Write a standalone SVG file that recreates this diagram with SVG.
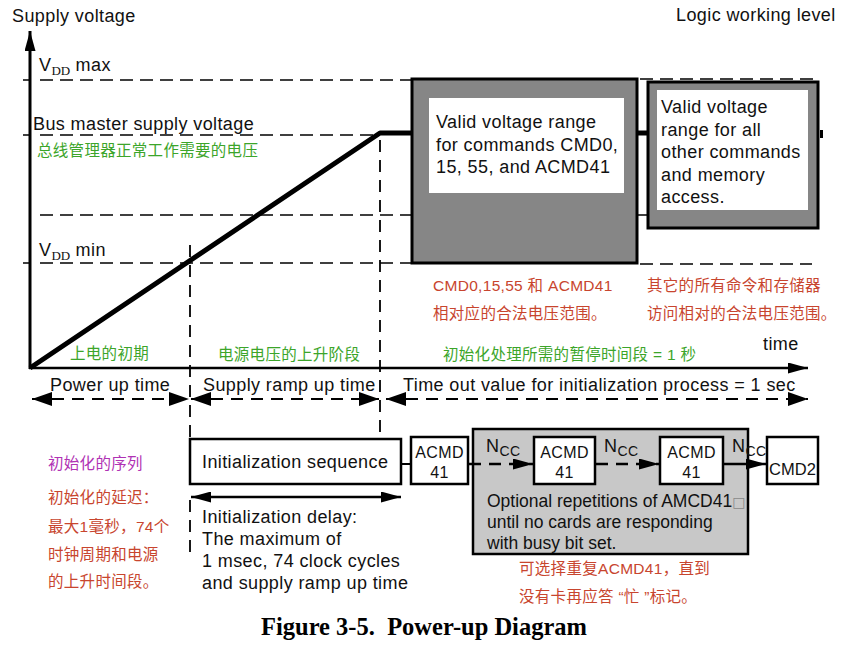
<svg xmlns="http://www.w3.org/2000/svg" width="842" height="646" viewBox="0 0 842 646">
<style>
.t{font-family:"Liberation Sans",Arial,"Noto Sans CJK SC",sans-serif;font-size:18px;letter-spacing:0.4px;fill:#111}
.s{font-family:"Liberation Serif","Times New Roman",serif;font-size:13px;letter-spacing:0}
.zh{font-family:"Liberation Sans","Noto Sans CJK SC",sans-serif;font-size:15.5px;letter-spacing:0.3px}
.g{fill:#3ca52a}
.r{fill:#c8452e}
.p{fill:#b032b4}
.dl{stroke:#000;stroke-width:1.5;stroke-dasharray:13 7;fill:none}
.dv{stroke:#000;stroke-width:1.8;stroke-dasharray:12 8;fill:none}
.da{stroke:#000;stroke-width:2;stroke-dasharray:12 8;fill:none}
.box{fill:#fff;stroke:#000;stroke-width:2.5}
.dark{fill:#868686;stroke:#000;stroke-width:3}
.sm{font-size:16px}
.gt{font-size:17.5px;letter-spacing:0}
</style>
<defs>
<marker id="ah" markerUnits="userSpaceOnUse" markerWidth="20" markerHeight="14" refX="20" refY="7" orient="auto-start-reverse">
<path d="M0,0 L20,7 L0,14 z" fill="#000"/>
</marker>
<marker id="as" markerUnits="userSpaceOnUse" markerWidth="20" markerHeight="11" refX="20" refY="5.5" orient="auto-start-reverse">
<path d="M0,0 L20,5.5 L0,11 z" fill="#000"/>
</marker>
</defs>
<rect width="842" height="646" fill="#fff"/>

<!-- axis and level lines -->
<g id="axes">
<line x1="30" y1="369" x2="30" y2="31" stroke="#000" stroke-width="3" marker-end="url(#as)"/>
<line x1="29" y1="368" x2="808" y2="368" stroke="#000" stroke-width="2.5" marker-end="url(#as)"/>
<line x1="23" y1="80" x2="30" y2="80" stroke="#000" stroke-width="1.5"/>
<line x1="23" y1="135" x2="30" y2="135" stroke="#000" stroke-width="1.5"/>
<line x1="23" y1="263" x2="30" y2="263" stroke="#000" stroke-width="1.5"/>
<line class="dl" x1="40" y1="80" x2="412" y2="80"/>
<line class="dl" x1="640" y1="79" x2="818" y2="79"/>
<line class="dl" x1="40" y1="135" x2="380" y2="135"/>
<line class="dl" x1="40" y1="215" x2="412" y2="215"/>
<line x1="637" y1="215" x2="648" y2="215" stroke="#000" stroke-width="1.5"/>
<line class="dl" x1="40" y1="263" x2="412" y2="263"/>
<line class="dl" x1="640" y1="264" x2="812" y2="264"/>
<line class="dv" x1="190" y1="245" x2="190" y2="439"/>
<line class="dv" x1="190" y1="500" x2="190" y2="552"/>
<line class="dv" x1="380" y1="140" x2="380" y2="439"/>
</g>

<g id="labels">
<text class="t" x="12" y="22">Supply voltage</text>
<text class="t" x="676" y="21">Logic working level</text>
<text class="t" x="39" y="71">V<tspan class="s" dy="4">DD</tspan><tspan dy="-4"> max</tspan></text>
<text class="t" x="33" y="130">Bus master supply voltage</text>
<text class="zh g" x="37" y="156">总线管理器正常工作需要的电压</text>
<text class="t" x="39" y="256">V<tspan class="s" dy="4">DD</tspan><tspan dy="-4"> min</tspan></text>
<text class="t" x="763" y="350">time</text>
<text class="zh g" x="70" y="359">上电的初期</text>
<text class="zh g" x="218" y="360">电源电压的上升阶段</text>
<text class="zh g" x="443" y="360">初始化处理所需的暂停时间段 = 1 秒</text>
<text class="zh r" x="433" y="291">CMD0,15,55 和  ACMD41</text>
<text class="zh r" x="433" y="319">相对应的合法电压范围。</text>
<text class="zh r" x="647" y="291">其它的所有命令和存储器</text>
<text class="zh r" x="647" y="319">访问相对的合法电压范围。</text>
<text class="t" x="50" y="391">Power up time</text>
<text class="t" x="203" y="391">Supply ramp up time</text>
<text class="t" x="403" y="391">Time out value for initialization process = 1 sec</text>
<text class="zh p" x="48" y="469">初始化的序列</text>
<text class="zh r" x="48" y="503">初始化的延迟：</text>
<text class="zh r" x="48" y="532">最大1毫秒，74个</text>
<text class="zh r" x="48" y="560">时钟周期和电源</text>
<text class="zh r" x="48" y="587">的上升时间段。</text>
<text class="t" x="202" y="523">Initialization delay:</text>
<text class="t" x="202" y="545">The maximum of</text>
<text class="t" x="202" y="567">1 msec, 74 clock cycles</text>
<text class="t" x="202" y="589">and supply ramp up time</text>
<text class="zh r" x="519" y="574">可选择重复ACMD41，直到</text>
<text class="zh r" x="519" y="602">没有卡再应答 “忙 ”标记。</text>
<text x="424" y="635" text-anchor="middle" style="font-family:'Liberation Serif','Times New Roman',serif;font-size:24.5px;font-weight:bold;white-space:pre;fill:#000">Figure 3-5.  Power-up Diagram</text>
</g>

<!-- voltage ranges -->
<g id="range1">
<rect class="dark" x="412" y="79" width="225" height="184"/>
<rect x="429" y="98" width="195" height="95" fill="#fff"/>
<text class="t" x="436" y="128">Valid voltage range</text>
<text class="t" x="436" y="151">for commands CMD0,</text>
<text class="t" x="436" y="173">15, 55, and ACMD41</text>
</g>
<g id="range2">
<rect class="dark" x="648" y="82" width="170" height="146"/>
<rect x="657" y="90" width="151" height="120" fill="#fff"/>
<text class="t" x="661" y="113">Valid voltage</text>
<text class="t" x="661" y="135.5">range for all</text>
<text class="t" x="661" y="158">other commands</text>
<text class="t" x="661" y="180.5">and memory</text>
<text class="t" x="661" y="203">access.</text>
</g>

<!-- power curve -->
<g id="supply">
<polyline points="30,368 380,133 412,133" fill="none" stroke="#000" stroke-width="5" stroke-linejoin="round"/>
<line x1="637" y1="133" x2="648" y2="133" stroke="#000" stroke-width="5"/>
<rect x="820" y="130" width="3" height="8" fill="#000"/>
</g>

<!-- bottom sequence -->
<g id="optional">
<rect x="473" y="429" width="275" height="125" fill="#c8c8c8" stroke="#000" stroke-width="2.5"/>
<text class="t gt" x="487" y="507">Optional repetitions of AMCD41<tspan fill="#888" style="font-family:'DejaVu Sans',sans-serif;font-size:14px">□</tspan></text>
<text class="t gt" x="487" y="528">until no cards are responding</text>
<text class="t gt" x="487" y="549">with busy bit set.</text>
</g>
<g id="initseq">
<rect class="box" x="190" y="439" width="211" height="45"/>
<text class="t" x="202" y="468">Initialization sequence</text>
</g>
<g id="acmd41a">
<rect class="box" x="411" y="437" width="57" height="47"/>
<text class="t sm" x="439.5" y="458" text-anchor="middle">ACMD</text>
<text class="t sm" x="439.5" y="478" text-anchor="middle">41</text>
</g>
<g id="acmd41b">
<rect class="box" x="534" y="437" width="61" height="47"/>
<text class="t sm" x="564.5" y="458" text-anchor="middle">ACMD</text>
<text class="t sm" x="564.5" y="478" text-anchor="middle">41</text>
</g>
<g id="acmd41c">
<rect class="box" x="660" y="437" width="63" height="47"/>
<text class="t sm" x="691.5" y="458" text-anchor="middle">ACMD</text>
<text class="t sm" x="691.5" y="478" text-anchor="middle">41</text>
</g>
<g id="cmd2">
<rect class="box" x="767" y="437" width="51" height="47"/>
<text class="t" x="792.5" y="475" text-anchor="middle" style="letter-spacing:0;font-size:16.5px">CMD2</text>
</g>

<g id="connectors">
<line class="da" x1="32" y1="399" x2="189" y2="399" marker-start="url(#ah)" marker-end="url(#ah)"/>
<line class="da" x1="191" y1="399" x2="379" y2="399" marker-start="url(#ah)" marker-end="url(#ah)"/>
<line class="da" x1="386" y1="399" x2="808" y2="399" marker-start="url(#ah)" marker-end="url(#ah)"/>
<line x1="191" y1="497" x2="401" y2="497" stroke="#000" stroke-width="2.5" marker-start="url(#as)" marker-end="url(#as)"/>
<line x1="401" y1="464" x2="411" y2="464" stroke="#000" stroke-width="2"/>
<line class="da" x1="469" y1="464" x2="533" y2="464" style="stroke-width:2.5" marker-end="url(#as)"/>
<line class="da" x1="596" y1="464" x2="659" y2="464" style="stroke-width:2.5" marker-end="url(#as)"/>
<line x1="724" y1="464" x2="766" y2="464" stroke="#000" stroke-width="2.5" marker-end="url(#as)"/>
<text class="t" x="486" y="452">N<tspan style="font-size:14px" dy="4">CC</tspan></text>
<text class="t" x="604" y="452">N<tspan style="font-size:14px" dy="4">CC</tspan></text>
<text class="t" x="732" y="452">N<tspan style="font-size:14px" dy="4">CC</tspan></text>
</g>
</svg>
